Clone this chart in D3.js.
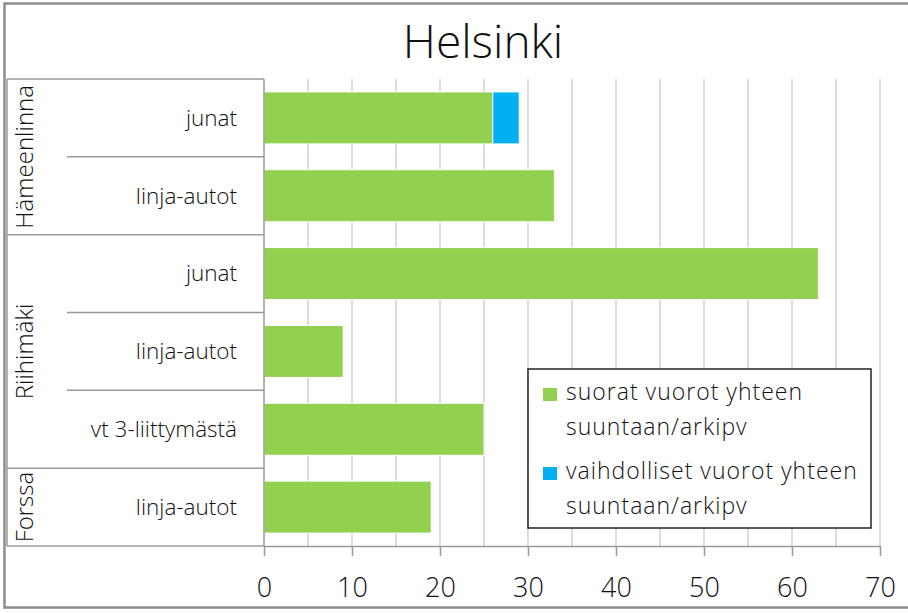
<!DOCTYPE html>
<html>
<head>
  <meta charset="utf-8">
  <title>Helsinki</title>
  <script src="https://d3js.org/d3.v7.min.js"></script>
  <style>
    body {
      margin: 0;
      padding: 0;
      background: white;
    }
    text {
      font-family: "Open Sans", "Noto Sans", sans-serif;
      fill: #111;
    }
    .grid line {
      stroke: #d0d0d0;
      stroke-width: 1.5;
    }
    .frame {
      stroke: #9a9a9a;
      stroke-width: 1.5;
    }
  </style>
</head>
<body>
  <div id="chart"></div>
  <script>
    // chart data
    var groups = ["Hämeenlinna", "Hämeenlinna", "Riihimäki", "Riihimäki", "Riihimäki", "Forssa"];
    var categories = ["junat", "linja-autot", "junat", "linja-autot", "vt 3-liittymästä", "linja-autot"];
    var direct = [26, 33, 63, 9, 25, 19];
    var transfer = [3, 0, 0, 0, 0, 0];
    var seriesNames = [
      ["suorat vuorot yhteen", "suuntaan/arkipv"],
      ["vaihdolliset vuorot yhteen", "suuntaan/arkipv"]
    ];
    var colors = ["#92d050", "#00b0f0"];
    var xTicks = [0, 10, 20, 30, 40, 50, 60, 70];
    var title = "Helsinki";

    var width = 908, height = 613;
    var plotLeft = 264, plotRight = 880, plotTop = 79, plotBottom = 546;

    var svg = d3.select("#chart")
      .append("svg")
        .attr("width", width)
        .attr("height", height);

    // outer border (right side cropped off)
    svg.append("rect")
        .attr("x", 4.5).attr("y", 3.5)
        .attr("width", 940).attr("height", 604)
        .attr("fill", "white")
        .attr("stroke", "#8c8c8c")
        .attr("stroke-width", 2.5);

    var x = d3.scaleLinear()
        .domain([0, 70])
        .range([plotLeft, plotRight]);

    var rows = d3.range(categories.length);
    var y = d3.scaleBand()
        .domain(rows)
        .range([plotTop, plotBottom])
        .paddingInner(0.332)
        .paddingOuter(0.166);
    var step = y.step();

    // gridlines every 5
    svg.append("g")
        .attr("class", "grid")
      .selectAll("line")
        .data(d3.range(5, 71, 5))
      .enter().append("line")
        .attr("x1", function(d) { return x(d); })
        .attr("x2", function(d) { return x(d); })
        .attr("y1", plotTop)
        .attr("y2", plotBottom);

    // bars
    svg.selectAll(".bar1")
        .data(direct)
      .enter().append("rect")
        .attr("class", "bar1")
        .attr("x", x(0))
        .attr("y", function(d, i) { return y(i); })
        .attr("width", function(d) { return x(d) - x(0); })
        .attr("height", y.bandwidth())
        .attr("fill", colors[0])
        .attr("stroke", "white")
        .attr("stroke-width", 1);

    svg.selectAll(".bar2")
        .data(transfer)
      .enter().append("rect")
        .attr("class", "bar2")
        .attr("x", function(d, i) { return x(direct[i]); })
        .attr("y", function(d, i) { return y(i); })
        .attr("width", function(d) { return x(d) - x(0); })
        .attr("height", y.bandwidth())
        .attr("fill", colors[1])
        .attr("stroke", function(d) { return d > 0 ? "white" : "none"; })
        .attr("stroke-width", 1);

    // x axis
    var xAxis = svg.append("g")
        .attr("transform", "translate(0," + plotBottom + ")")
        .call(d3.axisBottom(x).tickValues(xTicks).tickSize(10).tickSizeOuter(0).tickPadding(22));
    xAxis.select(".domain").attr("stroke", "#9a9a9a").attr("stroke-width", 1.5);
    xAxis.selectAll(".tick line").attr("stroke", "#9a9a9a").attr("stroke-width", 1.5);
    xAxis.selectAll(".tick text")
        .attr("font-family", "Open Sans, Noto Sans, sans-serif")
        .attr("font-size", 27)
        .attr("font-weight", 300)
        .attr("fill", "#111");

    // category table
    var frame = svg.append("g").attr("class", "frame");
    frame.append("line").attr("x1", 7).attr("x2", plotLeft).attr("y1", plotTop).attr("y2", plotTop);
    frame.append("line").attr("x1", 7).attr("x2", plotLeft).attr("y1", plotBottom).attr("y2", plotBottom);
    frame.append("line").attr("x1", plotLeft).attr("x2", plotLeft).attr("y1", plotTop).attr("y2", plotBottom);
    frame.append("line").attr("x1", 7).attr("x2", 7).attr("y1", plotTop).attr("y2", plotBottom);

    rows.slice(1).forEach(function(i) {
      var yy = y(i) - step * 0.166;
      var sameGroup = groups[i] === groups[i - 1];
      frame.append("line")
          .attr("x1", sameGroup ? 67 : 7)
          .attr("x2", plotLeft)
          .attr("y1", yy).attr("y2", yy);
    });

    svg.selectAll(".cat")
        .data(categories)
      .enter().append("text")
        .attr("class", "cat")
        .attr("x", 237)
        .attr("y", function(d, i) { return y(i) + y.bandwidth() / 2; })
        .attr("dy", "0.35em")
        .attr("text-anchor", "end")
        .attr("font-size", 22.5)
        .attr("font-weight", 300)
        .text(function(d) { return d; });

    // group labels, rotated
    var groupNames = Array.from(new Set(groups));
    groupNames.forEach(function(g) {
      var idx = rows.filter(function(i) { return groups[i] === g; });
      var y0 = y(idx[0]) - step * 0.166;
      var y1 = y(idx[idx.length - 1]) + y.bandwidth() + step * 0.166;
      svg.append("text")
          .attr("transform", "translate(33," + ((y0 + y1) / 2) + ") rotate(-90)")
          .attr("text-anchor", "middle")
          .attr("font-size", 24)
          .attr("font-weight", 300)
          .text(g);
    });

    // title
    svg.append("text")
        .attr("x", 483)
        .attr("y", 58)
        .attr("text-anchor", "middle")
        .attr("font-size", 46)
        .attr("font-weight", 300)
        .text(title);

    // legend
    var legend = svg.append("g").attr("transform", "translate(528,369)");
    legend.append("rect")
        .attr("width", 343).attr("height", 159)
        .attr("fill", "white")
        .attr("stroke", "#222")
        .attr("stroke-width", 1.5);

    seriesNames.forEach(function(lines, k) {
      var base = 31 + k * 79;
      legend.append("rect")
          .attr("x", 15).attr("y", base - 12)
          .attr("width", 14).attr("height", 13)
          .attr("fill", colors[k]);
      lines.forEach(function(line, j) {
        legend.append("text")
            .attr("x", 38)
            .attr("y", base + j * 35)
            .attr("font-size", 23)
            .attr("font-weight", 300)
            .attr("letter-spacing", 1.0)
            .text(line);
      });
    });
  </script>
</body>
</html>
